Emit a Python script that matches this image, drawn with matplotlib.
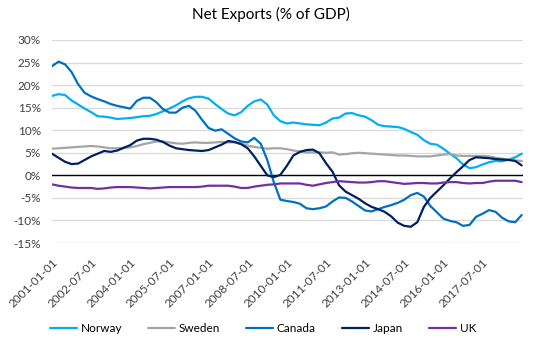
import matplotlib
matplotlib.use("Agg")
import matplotlib.pyplot as plt
from matplotlib.ticker import FuncFormatter
import pandas as pd

# quarterly dates, 2001Q1 .. 2019Q1
dates = pd.date_range("2001-01-01", periods=73, freq="QS")
labels = [d.strftime("%Y-%m-%d") for d in dates]

norway = [17.6, 18.0, 17.8, 16.6, 15.7, 14.8, 14.0, 13.1, 13.0, 12.8, 12.5, 12.6, 12.7, 12.9, 13.1, 13.2,
          13.6, 14.2, 14.8, 15.5, 16.4, 17.1, 17.4, 17.4, 17.0, 15.8, 14.7, 13.7, 13.3, 14.0, 15.4, 16.4,
          16.8, 15.7, 13.3, 12.0, 11.5, 11.7, 11.5, 11.3, 11.2, 11.1, 11.7, 12.6, 12.8, 13.7, 13.8, 13.3,
          13.0, 12.2, 11.2, 10.9, 10.8, 10.7, 10.3, 9.6, 9.0, 7.8, 7.0, 6.8, 5.9, 4.8, 3.8, 2.4, 1.6, 1.8,
          2.4, 2.9, 3.2, 3.1, 3.5, 4.0, 4.8]
sweden = [5.9, 6.0, 6.1, 6.2, 6.3, 6.4, 6.5, 6.4, 6.2, 6.0, 6.0, 6.1, 6.2, 6.5, 6.9, 7.2,
          7.5, 7.5, 7.3, 7.1, 7.0, 7.2, 7.3, 7.2, 7.2, 7.3, 7.4, 7.3, 7.3, 7.0, 6.6, 6.3,
          6.1, 5.9, 6.0, 6.0, 5.8, 5.5, 5.3, 5.1, 5.1, 5.1, 5.0, 5.1, 4.6, 4.7, 4.9, 5.0,
          4.9, 4.8, 4.7, 4.6, 4.5, 4.4, 4.4, 4.3, 4.2, 4.2, 4.2, 4.4, 4.6, 4.7, 4.4, 4.3, 4.3, 4.3,
          4.3, 4.2, 3.9, 3.7, 3.5, 3.3, 3.2]
canada = [24.2, 25.2, 24.6, 22.9, 20.2, 18.3, 17.5, 16.9, 16.4, 15.8, 15.4, 15.1, 14.8, 16.5, 17.2, 17.2,
          16.2, 14.7, 13.9, 13.9, 15.0, 15.4, 14.3, 12.3, 10.5, 9.9, 10.2, 9.2, 8.2, 7.5, 7.3, 8.3,
          7.0, 3.4, -1.5, -5.4, -5.7, -5.9, -6.3, -7.3, -7.5, -7.3, -6.9, -5.8, -4.9, -5.0, -5.8, -6.8,
          -7.8, -8.0, -7.5, -7.0, -6.6, -6.1, -5.4, -4.4, -3.9, -4.7, -6.8, -8.2, -9.6, -10.1, -10.4, -11.2,
          -11.0, -9.2, -8.5, -7.7, -8.1, -9.4, -10.2, -10.4, -8.8]
japan = [4.8, 3.9, 3.0, 2.5, 2.6, 3.4, 4.2, 4.8, 5.4, 5.2, 5.5, 6.1, 6.7, 7.7, 8.1, 8.1,
         7.9, 7.4, 6.6, 6.0, 5.8, 5.6, 5.5, 5.4, 5.6, 6.2, 6.8, 7.6, 7.4, 6.9, 6.0, 4.2,
         2.1, 0.0, -0.4, 0.1, 2.1, 4.4, 5.2, 5.6, 5.7, 4.9, 2.7, 0.8, -2.2, -3.6, -4.4, -5.2,
         -6.2, -7.0, -7.5, -8.1, -9.1, -10.5, -11.2, -11.4, -10.4, -7.0, -5.0, -3.6, -2.2, -0.7, 0.7, 2.0,
         3.4, 4.0, 3.9, 3.8, 3.6, 3.5, 3.4, 3.2, 2.2]
uk = [-2.0, -2.3, -2.5, -2.7, -2.8, -2.8, -2.8, -3.0, -2.9, -2.7, -2.6, -2.6, -2.6, -2.7, -2.8, -2.9,
      -2.8, -2.7, -2.6, -2.6, -2.6, -2.6, -2.6, -2.5, -2.3, -2.3, -2.3, -2.3, -2.5, -2.8, -2.8, -2.5,
      -2.3, -2.1, -2.0, -1.8, -1.8, -1.8, -1.8, -2.1, -2.3, -2.0, -1.7, -1.5, -1.3, -1.4, -1.5, -1.6,
      -1.6, -1.5, -1.3, -1.3, -1.5, -1.7, -1.9, -1.8, -1.7, -1.7, -1.8, -1.8, -1.6, -1.5, -1.5, -1.7,
      -1.8, -1.7, -1.7, -1.4, -1.2, -1.2, -1.2, -1.2, -1.5]

series = [("Norway", norway, "#00B0F0"), ("Sweden", sweden, "#A5A5A5"),
          ("Canada", canada, "#0070C0"), ("Japan", japan, "#002060"), ("UK", uk, "#7030A0")]

plt.rcParams["font.family"] = ["Lato", "DejaVu Sans"]

fig = plt.figure(figsize=(5.41, 3.43), dpi=100)
ax = fig.add_axes([52/541, 1-243/343, 471/541, 203/343])

x = list(range(len(dates)))
for name, vals, col in series:
    ax.plot(x, vals, color=col, lw=1.6, label=name, solid_capstyle="round")

ax.set_ylim(-15, 30)
ax.set_yticks(range(-15, 31, 5))
ax.yaxis.set_major_formatter(FuncFormatter(lambda v, p: f"{v:.0f}%"))
ax.set_xlim(0, 72.2)
# every 6th quarter labelled, last point left unlabelled as in the original
ax.set_xticks(x[0:72:6])
ax.set_xticklabels(labels[0:72:6], rotation=45, ha="right", va="top", rotation_mode="anchor")
ax.tick_params(axis="both", length=0, labelsize=8.5, colors="#404040")
ax.tick_params(axis="x", pad=10)
ax.tick_params(axis="y", pad=8)
ax.grid(axis="y", color="#D9D9D9", lw=0.9)
ax.set_axisbelow(True)
ax.axhline(0, color="black", lw=1.0, zorder=1.5)
for s in ax.spines.values():
    s.set_visible(False)

fig.suptitle("Net Exports (% of GDP)", y=1-14/343, va="center", fontsize=11, color="#000000")
fig.legend(loc="center", bbox_to_anchor=(263/541, 1-329/343), ncol=5, frameon=False,
           fontsize=8.5, handlelength=2.3, columnspacing=2.2, handletextpad=0.3)

fig.savefig("out.png", dpi=100)
